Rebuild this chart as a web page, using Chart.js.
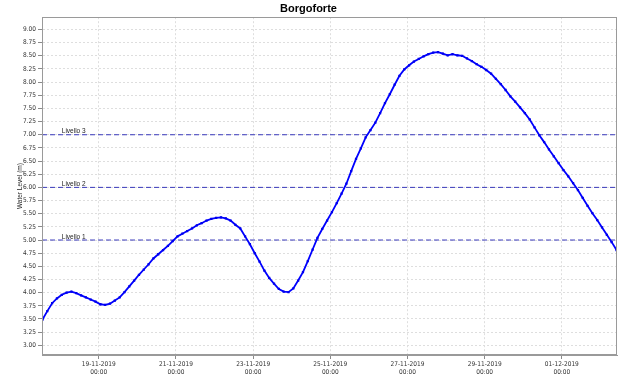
<!DOCTYPE html>
<html>
<head>
<meta charset="utf-8">
<script src="https://cdn.jsdelivr.net/npm/chart.js@4.4.1/dist/chart.umd.min.js"></script>
<style>
  html, body { margin: 0; padding: 0; background: #fff; }
  canvas { display: block; }
</style>
</head>
<body>
<canvas id="chart" width="632" height="379"></canvas>
<script>
/* Borgoforte — livello idrometrico, 17-11-2019 → 02-12-2019
   x in ore rispetto a 19-11-2019 00:00, un valore ogni 3 ore */
var START_HOUR = -35;            // 17-11-2019 13:00
var STEP_HOURS = 3;
var LEVELS = [
  3.49, 3.65, 3.80, 3.89, 3.96, 4.00, 4.02, 3.99, 3.95, 3.91,
  3.87, 3.83, 3.78, 3.77, 3.79, 3.85, 3.91, 4.01, 4.12, 4.23,
  4.34, 4.44, 4.54, 4.65, 4.73, 4.81, 4.89, 4.98, 5.07, 5.12,
  5.17, 5.22, 5.28, 5.32, 5.37, 5.40, 5.42, 5.43, 5.41, 5.37,
  5.29, 5.22, 5.07, 4.92, 4.75, 4.59, 4.42, 4.28, 4.17, 4.07,
  4.02, 4.01, 4.08, 4.23, 4.39, 4.60, 4.82, 5.04, 5.21, 5.37,
  5.53, 5.70, 5.88, 6.07, 6.31, 6.54, 6.74, 6.95, 7.09, 7.23,
  7.41, 7.60, 7.77, 7.95, 8.12, 8.24, 8.32, 8.39, 8.44, 8.49,
  8.53, 8.56, 8.57, 8.54, 8.51, 8.53, 8.51, 8.50, 8.45, 8.40,
  8.34, 8.29, 8.23, 8.16, 8.06, 7.96, 7.85, 7.73, 7.63, 7.52,
  7.41, 7.29, 7.14, 6.99, 6.86, 6.72, 6.59, 6.46, 6.33, 6.21,
  6.08, 5.95, 5.80, 5.65, 5.51, 5.38, 5.24, 5.10, 4.96, 4.81
];
var X_TICKS = [0, 48, 96, 144, 192, 240, 288];
var X_TICK_LABELS = [
  ['19-11-2019', '00:00'], ['21-11-2019', '00:00'], ['23-11-2019', '00:00'],
  ['25-11-2019', '00:00'], ['27-11-2019', '00:00'], ['29-11-2019', '00:00'],
  ['01-12-2019', '00:00']
];
var Y_TICKS = [3.00, 3.25, 3.50, 3.75, 4.00, 4.25, 4.50, 4.75, 5.00, 5.25, 5.50, 5.75,
  6.00, 6.25, 6.50, 6.75, 7.00, 7.25, 7.50, 7.75, 8.00, 8.25, 8.50, 8.75, 9.00];
var THRESHOLDS = [5.0, 6.0, 7.0];
var THRESHOLD_LABELS = ['Livello 1', 'Livello 2', 'Livello 3'];
var X_RANGE = [-35.3, 322.3];
var Y_RANGE = [2.816, 9.233];
var LABEL_AT = -23;              // ora in cui scrivere "Livello n"

var SANS = '"Liberation Sans", Arial, sans-serif';
var NARROW = '"Liberation Sans Narrow", "DejaVu Sans Condensed", "Liberation Sans", sans-serif';

/* cornice del plot + etichette delle soglie */
var extras = {
  id: 'extras',
  afterDatasetsDraw: function (chart) {
    var ctx = chart.ctx, a = chart.chartArea, xs = chart.scales.x, ys = chart.scales.y;
    ctx.save();
    ctx.font = '6.5px ' + SANS;
    ctx.fillStyle = '#222';
    ctx.textBaseline = 'alphabetic';
    THRESHOLDS.forEach(function (v, i) {
      ctx.fillText(THRESHOLD_LABELS[i], xs.getPixelForValue(LABEL_AT), ys.getPixelForValue(v) - 1.5);
    });
    ctx.strokeStyle = '#9a9a9a';
    ctx.lineWidth = 1;
    ctx.strokeRect(Math.round(a.left) + 0.5, Math.round(a.top) + 0.5,
      Math.round(a.right - a.left) - 1, Math.round(a.bottom - a.top) - 1);
    ctx.restore();
  }
};

var series = LEVELS.map(function (v, i) { return { x: START_HOUR + i * STEP_HOURS, y: v }; });
var datasets = [{
  label: 'Borgoforte',
  data: series,
  borderColor: '#0000ff',
  backgroundColor: '#0000ee',
  borderWidth: 1.8,
  pointRadius: 1.6,
  pointStyle: 'rect',
  pointBorderWidth: 0,
  tension: 0,
  order: 0
}];
THRESHOLDS.forEach(function (v, i) {
  datasets.push({
    label: THRESHOLD_LABELS[i],
    data: [{ x: X_RANGE[0], y: v }, { x: X_RANGE[1], y: v }],
    borderColor: '#3a3abb',
    borderWidth: 1,
    borderDash: [5, 3],
    pointRadius: 0,
    order: 1
  });
});

new Chart(document.getElementById('chart'), {
  type: 'line',
  data: { datasets: datasets },
  plugins: [extras],
  options: {
    responsive: false,
    animation: false,
    devicePixelRatio: 1,
    layout: { padding: { left: 0, right: 15, top: 0, bottom: 0 } },
    plugins: {
      legend: { display: false },
      tooltip: { enabled: false },
      title: {
        display: true,
        text: 'Borgoforte',
        color: '#000',
        font: { family: SANS, size: 11, weight: 'bold' },
        padding: { top: 2, bottom: 2 }
      }
    },
    scales: {
      x: {
        type: 'linear',
        min: X_RANGE[0], max: X_RANGE[1],
        afterBuildTicks: function (s) { s.ticks = X_TICKS.map(function (v) { return { value: v }; }); },
        afterFit: function (s) { s.height = 24; },
        ticks: {
          autoSkip: false, maxRotation: 0, padding: 2, color: '#333',
          font: { family: NARROW, size: 6.5, lineHeight: 1.15 },
          callback: function (v, i) { return X_TICK_LABELS[i]; }
        },
        grid: { color: '#dedede', tickLength: 4, tickColor: '#8a8a8a' },
        border: { color: '#9a9a9a', dash: [2, 2] }
      },
      y: {
        min: Y_RANGE[0], max: Y_RANGE[1],
        afterBuildTicks: function (s) { s.ticks = Y_TICKS.map(function (v) { return { value: v }; }); },
        afterFit: function (s) { s.width = 42; },
        ticks: {
          padding: 2, color: '#333',
          font: { family: NARROW, size: 6.5 },
          callback: function (v) { return Number(v).toFixed(2); }
        },
        grid: { color: '#dedede', tickLength: 4, tickColor: '#8a8a8a' },
        border: { color: '#9a9a9a', dash: [2, 2] },
        title: {
          display: true, text: 'Water Level (m)', color: '#222',
          font: { family: SANS, size: 6.5 },
          padding: { top: 16, bottom: 0 }
        }
      }
    }
  }
});
</script>
</body>
</html>
